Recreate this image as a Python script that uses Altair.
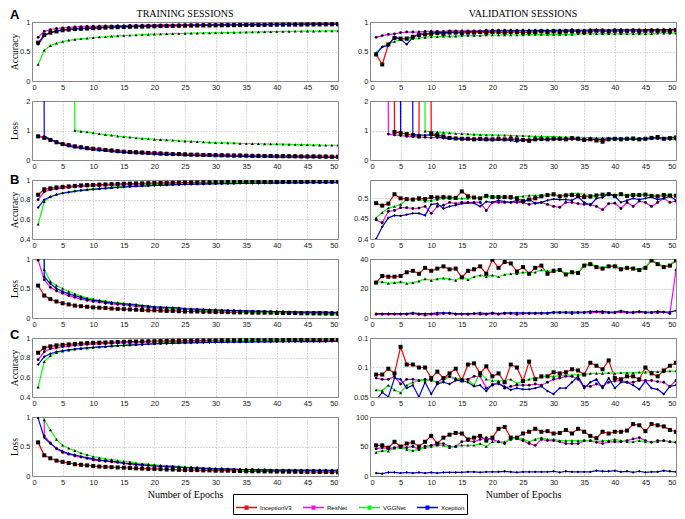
import altair as alt
import pandas as pd

EPOCHS = list(range(1, 51))
MODELS = ["InceptionV3", "ResNet", "VGGNet", "Xception"]
COLORS = ["#ff0000", "#ff00ff", "#00ff00", "#0000ff"]
SHAPES = ["square", "circle", "triangle-up", "diamond"]
SIZES = [16, 8, 9, 8]
X_TICKS = list(range(0, 51, 5))
OFF = 60  # values far above the axis range (curve leaves the plot)

# ---------------- A : training ----------------
A_TR_ACC_INC = [0.65,0.78,0.82,0.84,0.86,0.87,0.88,0.885,0.89,0.895, 0.90,0.905,0.91,0.912,0.915,0.918,0.92,0.922,0.925,0.927, 0.93,0.932,0.934,0.935,0.937,0.938,0.94,0.941,0.942,0.943, 0.944,0.945,0.946,0.947,0.948,0.949,0.95,0.951,0.952,0.953, 0.954,0.955,0.955,0.956,0.957,0.958,0.958,0.959,0.96,0.96]
A_TR_ACC_RES = [0.74,0.84,0.87,0.89,0.9,0.91,0.915,0.92,0.925,0.928, 0.93,0.933,0.935,0.937,0.94,0.942,0.944,0.945,0.947,0.948, 0.95,0.951,0.952,0.953,0.954,0.955,0.956,0.957,0.958,0.959, 0.96,0.961,0.962,0.962,0.963,0.964,0.964,0.965,0.966,0.966, 0.967,0.967,0.968,0.968,0.969,0.969,0.97,0.97,0.97,0.971]
A_TR_ACC_VGG = [0.28,0.52,0.6,0.64,0.67,0.69,0.705,0.715,0.725,0.735, 0.745,0.75,0.76,0.765,0.77,0.775,0.78,0.785,0.79,0.795, 0.797,0.8,0.803,0.805,0.807,0.81,0.812,0.814,0.816,0.818, 0.82,0.822,0.824,0.826,0.828,0.83,0.832,0.834,0.836,0.838, 0.84,0.841,0.843,0.844,0.845,0.846,0.847,0.848,0.849,0.85]
A_TR_ACC_XCE = [0.62,0.77,0.82,0.85,0.865,0.875,0.885,0.89,0.895,0.9, 0.905,0.91,0.915,0.92,0.922,0.925,0.928,0.93,0.932,0.934, 0.936,0.938,0.94,0.942,0.943,0.945,0.946,0.948,0.949,0.95, 0.951,0.952,0.953,0.954,0.955,0.956,0.957,0.958,0.959,0.96, 0.96,0.961,0.962,0.962,0.963,0.964,0.964,0.965,0.965,0.966]

A_TR_LOSS_INC = [0.8,0.75,0.68,0.6,0.54,0.5,0.46,0.43,0.4,0.38, 0.36,0.34,0.32,0.3,0.28,0.27,0.26,0.25,0.24,0.23, 0.22,0.21,0.2,0.2,0.19,0.18,0.18,0.17,0.17,0.16, 0.16,0.155,0.15,0.15,0.145,0.14,0.14,0.135,0.135,0.13, 0.13,0.125,0.125,0.12,0.12,0.12,0.115,0.115,0.11,0.11]
A_TR_LOSS_RES = [0.82,0.78,0.7,0.62,0.56,0.52,0.48,0.45,0.42,0.4, 0.38,0.36,0.34,0.32,0.3,0.29,0.28,0.27,0.26,0.25, 0.24,0.23,0.22,0.22,0.21,0.2,0.2,0.19,0.19,0.18, 0.18,0.175,0.17,0.17,0.165,0.16,0.16,0.155,0.155,0.15, 0.15,0.145,0.145,0.14,0.14,0.14,0.135,0.135,0.13,0.13]
A_TR_LOSS_VGG = [OFF,OFF,OFF,OFF,OFF,OFF,1.0,0.97,0.95,0.92, 0.89,0.86,0.84,0.81,0.79,0.77,0.75,0.73,0.72,0.7, 0.69,0.68,0.67,0.65,0.64,0.63,0.62,0.61,0.6,0.59, 0.585,0.58,0.575,0.565,0.56,0.555,0.55,0.545,0.54,0.54, 0.535,0.53,0.525,0.52,0.515,0.51,0.505,0.5,0.5,0.5]
A_TR_LOSS_XCE = [OFF,0.8,0.7,0.6,0.52,0.47,0.43,0.4,0.37,0.35, 0.33,0.31,0.29,0.27,0.26,0.24,0.23,0.22,0.21,0.2, 0.19,0.18,0.18,0.17,0.16,0.16,0.15,0.15,0.14,0.14, 0.13,0.13,0.125,0.12,0.12,0.115,0.11,0.11,0.105,0.1, 0.1,0.1,0.095,0.095,0.09,0.09,0.09,0.085,0.085,0.08]

# ---------------- A : validation ----------------
A_VA_ACC_INC = [0.45,0.28,0.62,0.73,0.72,0.72,0.75,0.78,0.79,0.8, 0.81,0.8,0.82,0.82,0.81,0.82,0.82,0.83,0.82,0.83, 0.83,0.82,0.83,0.83,0.82,0.83,0.83,0.84,0.83,0.84, 0.83,0.84,0.84,0.84,0.83,0.84,0.85,0.84,0.84,0.85, 0.84,0.85,0.85,0.84,0.85,0.85,0.85,0.85,0.84,0.86]
A_VA_ACC_RES = [0.74,0.77,0.79,0.8,0.82,0.83,0.83,0.83,0.84,0.84, 0.84,0.84,0.85,0.85,0.85,0.85,0.85,0.85,0.86,0.86, 0.86,0.86,0.86,0.86,0.86,0.86,0.86,0.86,0.86,0.86, 0.86,0.86,0.87,0.86,0.86,0.87,0.86,0.87,0.86,0.87, 0.87,0.86,0.87,0.87,0.86,0.87,0.87,0.87,0.87,0.87]
A_VA_ACC_VGG = [0.48,0.58,0.63,0.67,0.7,0.71,0.72,0.73,0.74,0.75, 0.75,0.76,0.76,0.76,0.77,0.77,0.77,0.77,0.78,0.78, 0.78,0.78,0.78,0.78,0.78,0.79,0.79,0.79,0.79,0.79, 0.79,0.79,0.79,0.8,0.8,0.8,0.8,0.8,0.8,0.8, 0.8,0.8,0.8,0.8,0.8,0.8,0.81,0.81,0.81,0.81]
A_VA_ACC_XCE = [0.45,0.58,0.6,0.75,0.71,0.62,0.74,0.8,0.8,0.81, 0.82,0.82,0.83,0.83,0.83,0.84,0.84,0.84,0.84,0.85, 0.85,0.85,0.85,0.85,0.85,0.85,0.85,0.86,0.85,0.86, 0.86,0.86,0.86,0.86,0.86,0.86,0.87,0.86,0.86,0.86, 0.87,0.86,0.87,0.86,0.87,0.87,0.86,0.87,0.87,0.88]

A_VA_LOSS_INC = [OFF,OFF,OFF,0.95,0.92,0.88,0.84,0.8,OFF,0.9, 0.85,0.8,0.75,0.73,0.72,0.72,0.7,0.72,0.7,0.7, 0.71,0.7,0.72,0.7,0.68,0.65,0.7,0.71,0.7,0.72, 0.72,0.7,0.74,0.72,0.68,0.7,0.66,0.62,0.7,0.72, 0.7,0.72,0.73,0.7,0.72,0.75,0.78,0.72,0.74,0.76]
A_VA_LOSS_RES = [OFF,OFF,0.88,0.85,0.83,0.8,0.79,0.78,0.77,0.76, 0.76,0.75,0.74,0.74,0.73,0.73,0.72,0.72,0.72,0.71, 0.71,0.7,0.7,0.7,0.7,0.69,0.7,0.7,0.69,0.7, 0.7,0.69,0.7,0.7,0.69,0.7,0.7,0.7,0.69,0.7, 0.7,0.7,0.7,0.7,0.7,0.72,0.73,0.71,0.7,0.7]
A_VA_LOSS_VGG = [OFF,OFF,OFF,OFF,OFF,OFF,OFF,OFF,0.98,0.96, 0.95,0.93,0.92,0.9,0.89,0.88,0.87,0.86,0.85,0.85, 0.84,0.84,0.83,0.82,0.82,0.81,0.8,0.8,0.79,0.79, 0.78,0.78,0.77,0.77,0.76,0.76,0.75,0.75,0.75,0.74, 0.74,0.74,0.73,0.73,0.73,0.73,0.72,0.72,0.72,0.72]
A_VA_LOSS_XCE = [OFF,OFF,OFF,OFF,0.95,OFF,0.88,0.84,0.84,0.85, 0.8,0.74,0.72,0.73,0.7,0.7,0.7,0.68,0.68,0.67, 0.68,0.68,0.66,0.62,0.7,0.68,0.7,0.7,0.69,0.72, 0.7,0.7,0.72,0.7,0.68,0.7,0.7,0.7,0.72,0.72, 0.72,0.72,0.7,0.72,0.72,0.75,0.75,0.74,0.76,0.78]

# ---------------- B : training ----------------
B_TR_ACC_INC = [0.85,0.905,0.915,0.925,0.93,0.935,0.94,0.945,0.948,0.95, 0.953,0.955,0.957,0.96,0.962,0.963,0.965,0.966,0.968,0.969, 0.97,0.971,0.972,0.973,0.974,0.975,0.976,0.977,0.977,0.978, 0.978,0.979,0.979,0.98,0.98,0.98,0.981,0.981,0.981,0.982, 0.982,0.982,0.983,0.983,0.983,0.984,0.984,0.984,0.984,0.985]
B_TR_ACC_RES = [0.8,0.88,0.9,0.91,0.918,0.925,0.93,0.935,0.938,0.94, 0.943,0.946,0.948,0.95,0.952,0.954,0.956,0.958,0.96,0.961, 0.962,0.963,0.964,0.965,0.966,0.967,0.968,0.969,0.97,0.97, 0.971,0.972,0.972,0.973,0.973,0.974,0.974,0.975,0.975,0.976, 0.976,0.976,0.977,0.977,0.977,0.978,0.978,0.978,0.979,0.979]
B_TR_ACC_VGG = [0.55,0.78,0.83,0.855,0.87,0.88,0.89,0.898,0.905,0.91, 0.915,0.92,0.925,0.93,0.935,0.94,0.944,0.947,0.95,0.953, 0.955,0.957,0.959,0.961,0.963,0.965,0.966,0.968,0.969,0.97, 0.971,0.972,0.973,0.974,0.975,0.976,0.977,0.977,0.978,0.979, 0.98,0.98,0.981,0.982,0.983,0.983,0.984,0.984,0.985,0.985]
B_TR_ACC_XCE = [0.72,0.8,0.83,0.85,0.865,0.875,0.885,0.893,0.9,0.905, 0.91,0.915,0.92,0.925,0.928,0.932,0.935,0.938,0.941,0.944, 0.946,0.948,0.95,0.952,0.954,0.955,0.957,0.958,0.96,0.961, 0.962,0.963,0.964,0.965,0.966,0.967,0.967,0.968,0.969,0.969, 0.97,0.97,0.971,0.971,0.972,0.972,0.973,0.973,0.973,0.974]

B_TR_LOSS_INC = [0.55,0.38,0.32,0.28,0.25,0.23,0.21,0.2,0.19,0.18, 0.175,0.17,0.16,0.155,0.15,0.145,0.14,0.135,0.13,0.13, 0.125,0.12,0.12,0.115,0.11,0.11,0.11,0.105,0.105,0.1, 0.1,0.1,0.095,0.095,0.095,0.09,0.09,0.09,0.09,0.085, 0.085,0.085,0.085,0.08,0.08,0.08,0.08,0.08,0.075,0.075]
B_TR_LOSS_RES = [0.98,0.65,0.52,0.46,0.42,0.38,0.35,0.32,0.3,0.28, 0.27,0.25,0.24,0.23,0.22,0.21,0.2,0.19,0.18,0.17, 0.165,0.16,0.155,0.15,0.145,0.14,0.135,0.13,0.13,0.125, 0.12,0.12,0.115,0.115,0.11,0.11,0.11,0.105,0.105,0.1, 0.1,0.1,0.1,0.095,0.095,0.095,0.095,0.09,0.09,0.09]
B_TR_LOSS_VGG = [OFF,0.82,0.62,0.55,0.5,0.45,0.41,0.37,0.34,0.32, 0.3,0.29,0.27,0.26,0.25,0.24,0.23,0.21,0.2,0.19, 0.18,0.17,0.16,0.16,0.15,0.14,0.14,0.13,0.13,0.12, 0.12,0.11,0.11,0.1,0.1,0.1,0.095,0.09,0.09,0.085, 0.085,0.08,0.08,0.075,0.075,0.07,0.07,0.065,0.065,0.06]
B_TR_LOSS_XCE = [OFF,0.7,0.58,0.5,0.45,0.41,0.38,0.35,0.32,0.3, 0.29,0.27,0.26,0.25,0.24,0.23,0.22,0.21,0.2,0.19, 0.185,0.18,0.175,0.17,0.16,0.155,0.15,0.145,0.14,0.14, 0.135,0.13,0.13,0.125,0.12,0.12,0.115,0.115,0.11,0.11, 0.11,0.105,0.105,0.1,0.1,0.1,0.1,0.1,0.095,0.095]

# ---------------- B : validation ----------------
B_VA_ACC_INC = [0.488,0.482,0.487,0.51,0.5,0.498,0.497,0.5,0.498,0.503, 0.502,0.503,0.502,0.501,0.517,0.505,0.502,0.5,0.506,0.503, 0.503,0.503,0.503,0.5,0.493,0.497,0.5,0.505,0.508,0.51, 0.505,0.507,0.508,0.506,0.503,0.505,0.507,0.509,0.51,0.506, 0.51,0.506,0.508,0.508,0.509,0.506,0.505,0.508,0.507,0.506]
B_VA_ACC_RES = [0.447,0.44,0.468,0.47,0.477,0.477,0.475,0.476,0.48,0.463, 0.48,0.483,0.49,0.487,0.49,0.49,0.49,0.49,0.47,0.49, 0.49,0.49,0.49,0.49,0.49,0.485,0.488,0.49,0.485,0.48, 0.478,0.49,0.49,0.487,0.485,0.485,0.48,0.472,0.487,0.488, 0.475,0.49,0.48,0.493,0.49,0.48,0.49,0.5,0.49,0.493]
B_VA_ACC_VGG = [0.452,0.465,0.476,0.48,0.485,0.497,0.497,0.497,0.493,0.495, 0.497,0.5,0.5,0.5,0.5,0.5,0.503,0.5,0.505,0.505, 0.505,0.503,0.5,0.503,0.505,0.507,0.507,0.507,0.508,0.508, 0.505,0.51,0.512,0.512,0.51,0.503,0.507,0.51,0.51,0.507, 0.513,0.507,0.51,0.51,0.51,0.507,0.505,0.51,0.508,0.507]
B_VA_ACC_XCE = [0.4,0.43,0.452,0.458,0.457,0.46,0.463,0.463,0.458,0.485, 0.487,0.475,0.48,0.483,0.487,0.488,0.488,0.48,0.492,0.49, 0.495,0.492,0.49,0.495,0.49,0.498,0.487,0.49,0.495,0.498, 0.497,0.497,0.495,0.503,0.49,0.483,0.5,0.502,0.512,0.505, 0.49,0.495,0.5,0.497,0.5,0.503,0.497,0.5,0.505,0.495]

B_VA_LOSS_INC = [24,28.5,28,28,28.5,31,32,30,34,32, 33.5,35,33,33.5,27.5,32,33,35,30,39.5, 34,38,37,31.5,34.5,30,34,35.5,30,32, 32.5,29.5,31,30.5,35.5,36.5,34.5,33.5,35,35, 33,34,33.5,32.5,34,39,36.5,34.5,35.5,39]
B_VA_LOSS_RES = [2.5,2.5,2.5,2.5,2.5,2.5,3,2.5,2,2.5, 2.5,3,3,2.5,2.5,2.5,3,2.5,2.5,3, 2.5,3,3,2.5,3,3,3,3,3,3.5, 3.5,3.5,3,3.5,3.5,3.5,4,3.5,3.5,3.5, 4,3.5,3.5,4,3.5,3.5,3.5,4,3,32.5]
B_VA_LOSS_VGG = [24.5,24.5,23.5,24,24.5,23.5,24,25,26.5,25.5, 26.5,27,26.5,25.5,28,26,28,29,28,29, 28,29.5,30,30,31,30.5,31,32.5,32,31.5, 33,30,31.5,31,36,37,35,34,35.5,35.5, 33.5,34.5,34,33,34.5,39.5,37,35,36,39.5]
B_VA_LOSS_XCE = [3,3,3,3,3,3,3.5,3,3,3, 3.5,3.5,3.5,3,3,3,3,3.5,3,3.5, 3,3.5,3.5,3.5,3.5,3.5,3.5,3.5,3.5,4, 4,4,4,4,4,4.5,4.5,4.5,4,4, 5,4,4,4.5,4,4,4.5,4,4,5]

# ---------------- C : training ----------------
C_TR_ACC_INC = [0.85,0.9,0.915,0.925,0.93,0.935,0.94,0.944,0.948,0.951, 0.953,0.955,0.957,0.959,0.961,0.963,0.964,0.966,0.967,0.968, 0.969,0.97,0.971,0.972,0.972,0.973,0.974,0.974,0.975,0.975, 0.976,0.976,0.977,0.977,0.977,0.978,0.978,0.978,0.979,0.979, 0.979,0.98,0.98,0.98,0.98,0.981,0.981,0.981,0.981,0.982]
C_TR_ACC_RES = [0.78,0.86,0.89,0.9,0.91,0.918,0.925,0.93,0.935,0.938, 0.941,0.944,0.947,0.95,0.952,0.954,0.956,0.958,0.96,0.962, 0.963,0.964,0.965,0.966,0.967,0.968,0.968,0.969,0.97,0.97, 0.971,0.971,0.972,0.972,0.973,0.973,0.974,0.974,0.974,0.975, 0.975,0.975,0.976,0.976,0.976,0.977,0.977,0.977,0.977,0.978]
C_TR_ACC_VGG = [0.5,0.76,0.82,0.85,0.865,0.875,0.885,0.89,0.897,0.903, 0.908,0.913,0.918,0.922,0.926,0.93,0.934,0.938,0.941,0.944, 0.947,0.95,0.953,0.955,0.958,0.96,0.962,0.964,0.966,0.968, 0.969,0.97,0.971,0.972,0.973,0.974,0.975,0.976,0.977,0.977, 0.978,0.979,0.98,0.981,0.981,0.982,0.983,0.983,0.984,0.985]
C_TR_ACC_XCE = [0.73,0.81,0.84,0.86,0.87,0.88,0.888,0.895,0.9,0.905, 0.909,0.913,0.917,0.921,0.925,0.928,0.931,0.934,0.937,0.94, 0.942,0.944,0.946,0.948,0.95,0.951,0.952,0.953,0.954,0.955, 0.956,0.957,0.958,0.958,0.959,0.96,0.96,0.961,0.961,0.962, 0.962,0.962,0.963,0.963,0.963,0.964,0.964,0.964,0.965,0.965]

C_TR_LOSS_INC = [0.57,0.35,0.3,0.26,0.24,0.22,0.2,0.19,0.18,0.17, 0.16,0.155,0.15,0.145,0.14,0.135,0.13,0.125,0.12,0.12, 0.115,0.11,0.11,0.105,0.1,0.1,0.1,0.095,0.095,0.09, 0.09,0.09,0.085,0.085,0.08,0.08,0.08,0.078,0.077,0.075, 0.075,0.073,0.072,0.07,0.07,0.068,0.067,0.066,0.065,0.065]
C_TR_LOSS_RES = [OFF,0.68,0.56,0.46,0.4,0.37,0.34,0.32,0.3,0.27, 0.26,0.25,0.24,0.23,0.21,0.2,0.19,0.18,0.18,0.17, 0.165,0.16,0.155,0.15,0.14,0.14,0.135,0.13,0.125,0.12, 0.12,0.115,0.115,0.11,0.11,0.11,0.105,0.105,0.1,0.1, 0.1,0.1,0.1,0.1,0.1,0.1,0.1,0.1,0.1,0.1]
C_TR_LOSS_VGG = [OFF,0.95,0.78,0.62,0.52,0.47,0.43,0.39,0.36,0.33, 0.31,0.29,0.28,0.26,0.25,0.24,0.22,0.21,0.2,0.19, 0.18,0.175,0.17,0.16,0.15,0.145,0.14,0.135,0.13,0.12, 0.12,0.115,0.11,0.105,0.1,0.1,0.095,0.095,0.09,0.09, 0.09,0.085,0.085,0.085,0.08,0.08,0.08,0.08,0.08,0.08]
C_TR_LOSS_XCE = [0.98,0.65,0.55,0.47,0.42,0.38,0.36,0.33,0.31,0.29, 0.27,0.26,0.25,0.24,0.22,0.21,0.2,0.19,0.18,0.17, 0.165,0.16,0.155,0.15,0.14,0.14,0.135,0.13,0.125,0.12, 0.12,0.115,0.115,0.11,0.11,0.11,0.105,0.105,0.1,0.1, 0.1,0.1,0.095,0.095,0.095,0.095,0.09,0.09,0.09,0.09]

# ---------------- C : validation ----------------
C_VA_ACC_INC = [0.088,0.088,0.098,0.09,0.135,0.105,0.105,0.1,0.1,0.082, 0.093,0.082,0.09,0.098,0.078,0.105,0.107,0.09,0.102,0.085, 0.09,0.075,0.105,0.1,0.077,0.11,0.08,0.085,0.085,0.092, 0.09,0.092,0.097,0.095,0.088,0.108,0.103,0.097,0.112,0.082, 0.08,0.085,0.085,0.08,0.1,0.09,0.085,0.095,0.103,0.108]
C_VA_ACC_RES = [0.082,0.08,0.08,0.085,0.072,0.08,0.08,0.078,0.08,0.078, 0.075,0.082,0.085,0.08,0.08,0.08,0.085,0.085,0.065,0.07, 0.075,0.065,0.068,0.07,0.07,0.07,0.072,0.07,0.075,0.08, 0.082,0.085,0.085,0.08,0.068,0.068,0.072,0.068,0.075,0.077, 0.078,0.075,0.075,0.078,0.078,0.078,0.076,0.075,0.068,0.078]
C_VA_ACC_VGG = [0.062,0.061,0.07,0.062,0.057,0.07,0.075,0.078,0.078,0.08, 0.073,0.078,0.085,0.082,0.08,0.08,0.07,0.092,0.08,0.078, 0.077,0.078,0.08,0.073,0.077,0.08,0.082,0.084,0.085,0.085, 0.086,0.087,0.087,0.088,0.088,0.09,0.09,0.09,0.091,0.09, 0.091,0.091,0.091,0.092,0.092,0.093,0.093,0.093,0.094,0.094]
C_VA_ACC_XCE = [0.045,0.058,0.05,0.082,0.08,0.065,0.07,0.05,0.075,0.055, 0.072,0.075,0.072,0.078,0.078,0.075,0.068,0.07,0.06,0.072, 0.072,0.068,0.062,0.065,0.063,0.063,0.065,0.068,0.06,0.055, 0.065,0.065,0.075,0.085,0.065,0.075,0.08,0.065,0.082,0.065, 0.075,0.075,0.07,0.063,0.077,0.065,0.063,0.055,0.068,0.07]

C_VA_LOSS_INC = [52,52,48,58,50,55,57,50,58,68, 55,65,70,73,72,62,65,68,60,65, 80,83,65,65,72,75,80,75,76,72, 73,78,72,80,75,68,64,75,72,75, 75,77,88,86,76,88,86,84,78,75]
C_VA_LOSS_RES = [46,48,46,48,50,48,50,45,50,52, 55,55,50,50,58,60,58,62,65,62, 58,55,65,63,60,55,52,62,60,60, 58,55,55,55,60,60,57,55,58,58, 58,60,63,65,60,57,60,60,58,57]
C_VA_LOSS_VGG = [40,43,42,47,48,45,43,45,48,50, 52,52,48,50,52,52,52,55,50,58, 58,58,62,65,63,58,62,65,62,62, 60,60,60,60,60,60,58,60,60,62, 60,58,58,60,58,58,58,60,58,58]
C_VA_LOSS_XCE = [5,4,6,6,5,6,5,6,5,6, 5,6,6,6,6,7,7,6,7,7, 7,8,7,6,7,7,7,7,7,8, 6,8,7,7,7,7,9,8,8,9, 7,8,6,8,6,7,7,9,8,7]

W, H = 306, 59
SERIF = "Liberation Serif"
SANS = "Liberation Sans"


def frame(inc, res, vgg, xce):
    rows = []
    for m, vals in zip(MODELS, [inc, res, vgg, xce]):
        for e, v in zip(EPOCHS, vals):
            rows.append({"epoch": e, "value": v, "model": m})
    return pd.DataFrame(rows)


LEGEND = alt.Legend(title=None, direction="horizontal", orient="none", legendX=201, legendY=472,
                    columns=4, gridAlign="each", columnPadding=8)


def panel(series, ydom, yticks, ytitle=None, xtitle=None, title=None, letter=None, letter_y=0):
    df = frame(*series)
    base = alt.Chart(df)
    x = alt.X("epoch:Q", scale=alt.Scale(domain=[0, 50], nice=False),
              axis=alt.Axis(values=X_TICKS, title=xtitle, titleFontWeight="normal",
                            titleFontSize=10, titlePadding=4))
    yaxis = dict(values=yticks, format="~r", title=ytitle)
    if ytitle:
        yaxis.update(titleX=-18, titleY=H / 2, titleAngle=270, titleAlign="center",
                     titleBaseline="middle", titleFontSize=9.5)
    y = alt.Y("value:Q", scale=alt.Scale(domain=ydom, nice=False, zero=False),
              axis=alt.Axis(**yaxis))
    color = alt.Color("model:N", scale=alt.Scale(domain=MODELS, range=COLORS), legend=LEGEND)
    lines = base.mark_line(clip=True, strokeWidth=1.2).encode(
        x=x, y=y, color=color, order="epoch:Q")
    layers = [lines]
    for m, shp, sz in zip(MODELS, SHAPES, SIZES):
        layers.append(
            base.transform_filter(alt.datum.model == m).mark_point(
                clip=True, filled=True, color="black", opacity=1, shape=shp, size=sz
            ).encode(x=x, y=y)
        )
    if letter:
        lt = alt.Chart(pd.DataFrame({"t": [letter]})).mark_text(
            font=SANS, fontWeight="bold", fontSize=13, align="left", baseline="middle"
        ).encode(text="t:N", x=alt.value(-22), y=alt.value(letter_y))
        layers.append(lt)
    if title:
        tt = alt.Chart(pd.DataFrame({"t": [title]})).mark_text(
            font=SERIF, fontSize=10, align="center", baseline="alphabetic", color="black"
        ).encode(text="t:N", x=alt.value(W / 2), y=alt.value(-5))
        layers.append(tt)
    return alt.layer(*layers).properties(width=W, height=H)


charts = [
    panel([A_TR_ACC_INC, A_TR_ACC_RES, A_TR_ACC_VGG, A_TR_ACC_XCE], [0, 1], [0, 0.5, 1],
          ytitle="Accuracy", title="TRAINING SESSIONS", letter="A", letter_y=-7),
    panel([A_VA_ACC_INC, A_VA_ACC_RES, A_VA_ACC_VGG, A_VA_ACC_XCE], [0, 1], [0, 0.5, 1],
          title="VALIDATION SESSIONS"),
    panel([A_TR_LOSS_INC, A_TR_LOSS_RES, A_TR_LOSS_VGG, A_TR_LOSS_XCE], [0, 2], [0, 1, 2],
          ytitle="Loss"),
    panel([A_VA_LOSS_INC, A_VA_LOSS_RES, A_VA_LOSS_VGG, A_VA_LOSS_XCE], [0, 2], [0, 1, 2]),
    panel([B_TR_ACC_INC, B_TR_ACC_RES, B_TR_ACC_VGG, B_TR_ACC_XCE], [0.4, 1], [0.4, 0.6, 0.8, 1],
          ytitle="Accuracy", letter="B", letter_y=0),
    panel([B_VA_ACC_INC, B_VA_ACC_RES, B_VA_ACC_VGG, B_VA_ACC_XCE], [0.4, 0.545], [0.4, 0.45, 0.5]),
    panel([B_TR_LOSS_INC, B_TR_LOSS_RES, B_TR_LOSS_VGG, B_TR_LOSS_XCE], [0, 1], [0, 0.5, 1],
          ytitle="Loss"),
    panel([B_VA_LOSS_INC, B_VA_LOSS_RES, B_VA_LOSS_VGG, B_VA_LOSS_XCE], [0, 40], [0, 20, 40]),
    panel([C_TR_ACC_INC, C_TR_ACC_RES, C_TR_ACC_VGG, C_TR_ACC_XCE], [0.4, 1], [0.4, 0.6, 0.8, 1],
          ytitle="Accuracy", letter="C", letter_y=-3),
    panel([C_VA_ACC_INC, C_VA_ACC_RES, C_VA_ACC_VGG, C_VA_ACC_XCE], [0.05, 0.15], [0.05, 0.1, 0.15]),
    panel([C_TR_LOSS_INC, C_TR_LOSS_RES, C_TR_LOSS_VGG, C_TR_LOSS_XCE], [0, 1], [0, 0.5, 1],
          ytitle="Loss", xtitle="Number of Epochs"),
    panel([C_VA_LOSS_INC, C_VA_LOSS_RES, C_VA_LOSS_VGG, C_VA_LOSS_XCE], [0, 100], [0, 50, 100],
          xtitle="Number of Epochs"),
]

chart = alt.concat(
    *charts, columns=2, spacing={"row": 20, "column": 32}, bounds="flush"
).properties(padding=0).configure_view(
    stroke="#808080", strokeWidth=1
).configure_axis(
    grid=True, gridColor="#a0a0a0", gridDash=[1, 2], gridWidth=0.8,
    domain=False, ticks=False,
    labelFont=SANS, labelFontSize=7.5, labelColor="#222222", labelPadding=2,
    titleFont=SERIF, titleFontSize=10, titleFontWeight="normal", titleColor="#000000"
).configure_legend(
    strokeColor="#000000", fillColor="#ffffff", padding=2, cornerRadius=0,
    symbolType="M-1,0H1M-0.12,-0.12H0.12V0.12H-0.12Z", symbolSize=441, symbolStrokeWidth=1.5,
    symbolFillColor="#000000",
    labelFont=SANS, labelFontSize=6, labelColor="#000000", labelOffset=2
)

chart.save("out.html", embed_options={"renderer": "svg", "actions": False})
